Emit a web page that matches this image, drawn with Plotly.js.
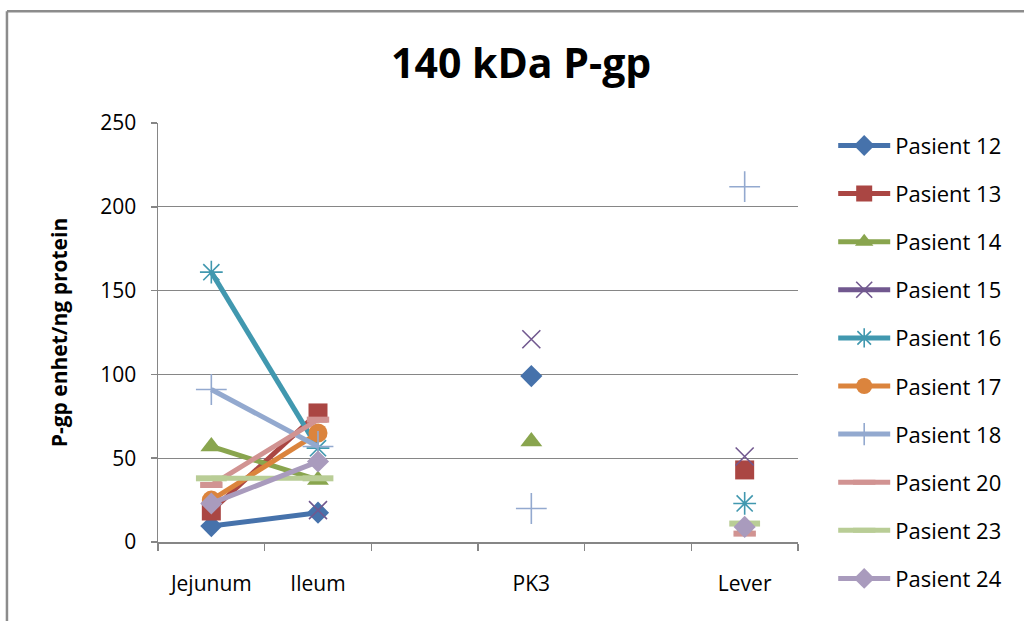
<!DOCTYPE html>
<html>
<head>
<meta charset="utf-8">
<script src="https://cdn.plot.ly/plotly-3.0.1.min.js"></script>
<style>
html,body{margin:0;padding:0;background:#fff;}
#chart{width:1024px;height:621px;}
</style>
</head>
<body>
<div id="chart"></div>
<script>
// Categories (blank spacer categories between groups, as in the original)
const categories = ['Jejunum', 'Ileum', ' ', 'PK3', '  ', 'Lever'];

// Series values (null = no measurement)
const seriesNames = ['Pasient 12','Pasient 13','Pasient 14','Pasient 15','Pasient 16','Pasient 17','Pasient 18','Pasient 20','Pasient 23','Pasient 24'];
const p12 = [9.5, 17.5, null, 99, null, null];
const p13 = [18.5, 77, null, null, null, 43];
const p14 = [57, 37, null, 60, null, 7];
const p15 = [null, 19, null, 121, null, 51];
const p16 = [161, 56, null, null, null, 23];
const p17 = [25, 65, null, null, null, null];
const p18 = [91, 57, null, 20, null, 212];
const p20 = [34, 73, null, null, null, 5];
const p23 = [38, 38, null, null, null, 11];
const p24 = [23, 48, null, null, null, 9];
const seriesValues = [p12, p13, p14, p15, p16, p17, p18, p20, p23, p24];

const yTickVals = [0, 50, 100, 150, 200, 250];

// Styles
const colors = ['#4672AB','#AA4643','#89A54E','#71588F','#4198AF','#DB843D','#93A9CF','#D19392','#B9CD96','#A99BBD'];
const symbols = ['diamond','square','triangle-up','x-thin-open','asterisk-open','circle','cross-thin-open','line-ew-open','line-ew-open','diamond'];
const sizes = [17, 19, 19, 18, 19, 19, 22, 16, 22, 17];

const FONT = 'Open Sans, Liberation Sans, sans-serif';

const traces = seriesNames.map((name, i) => {
  const open = symbols[i].endsWith('-open');
  return {
    type: 'scatter',
    mode: 'lines+markers',
    name: name,
    legendgroup: 'g' + i,
    x: categories,
    y: seriesValues[i],
    connectgaps: false,
    line: {color: colors[i], width: 5},
    marker: {
      symbol: symbols[i],
      size: sizes[i],
      color: colors[i],
      line: {color: colors[i], width: open ? (symbols[i].startsWith('line') ? 6 : 1.6) : 0}
    },
    cliponaxis: false
  };
});

const layout = {
  width: 1024,
  height: 621,
  paper_bgcolor: '#ffffff',
  plot_bgcolor: '#ffffff',
  margin: {l: 158, r: 226, t: 123, b: 79},
  font: {family: FONT, color: '#000000'},
  title: {
    text: '<b>140 kDa P-gp</b>',
    font: {family: FONT, size: 41, color: '#000000'},
    x: 0.509, xref: 'container', xanchor: 'center',
    y: 0.898, yref: 'container', yanchor: 'middle'
  },
  xaxis: {
    type: 'category',
    categoryorder: 'array',
    categoryarray: categories,
    range: [-0.5, 5.5],
    tickson: 'boundaries',
    ticks: 'outside',
    ticklen: 7,
    tickcolor: '#868686',
    tickwidth: 1.5,
    showline: true,
    linecolor: '#868686',
    linewidth: 1.5,
    showgrid: false,
    zeroline: false,
    tickfont: {family: FONT, size: 21, color: '#000000'},
    ticklabelstandoff: 22,
    fixedrange: true
  },
  yaxis: {
    range: [0, 250],
    tickvals: yTickVals,
    ticktext: yTickVals.map(String),
    ticks: 'outside',
    ticklen: 6,
    tickcolor: '#868686',
    tickwidth: 1.5,
    showline: true,
    linecolor: '#868686',
    linewidth: 1.5,
    showgrid: true,
    gridcolor: '#868686',
    gridwidth: 1.2,
    zeroline: false,
    tickfont: {family: FONT, size: 21, color: '#000000'},
    ticklabelstandoff: 10,
    title: {
      text: '<b>P-gp enhet/ng protein</b>',
      font: {family: FONT, size: 21, color: '#000000'},
      standoff: 27
    },
    fixedrange: true
  },
  showlegend: true,
  legend: {
    x: 1.055, xanchor: 'left',
    y: 0.996, yanchor: 'top',
    font: {family: FONT, size: 22, color: '#000000'},
    traceorder: 'grouped',
    tracegroupgap: 16.5,
    itemwidth: 52,
    maxheight: 600,
    bgcolor: 'rgba(0,0,0,0)'
  },
  shapes: [
    {type: 'line', xref: 'paper', yref: 'paper', x0: -0.236, x1: -0.236, y0: -0.3, y1: 1.267,
     line: {color: '#8c8c8c', width: 2.5}, layer: 'below'},
    {type: 'line', xref: 'paper', yref: 'paper', x0: -0.236, x1: 1.5, y0: 1.267, y1: 1.267,
     line: {color: '#8c8c8c', width: 2.5}, layer: 'below'}
  ]
};

Plotly.newPlot('chart', traces, layout, {displayModeBar: false, staticPlot: true});
</script>
</body>
</html>
